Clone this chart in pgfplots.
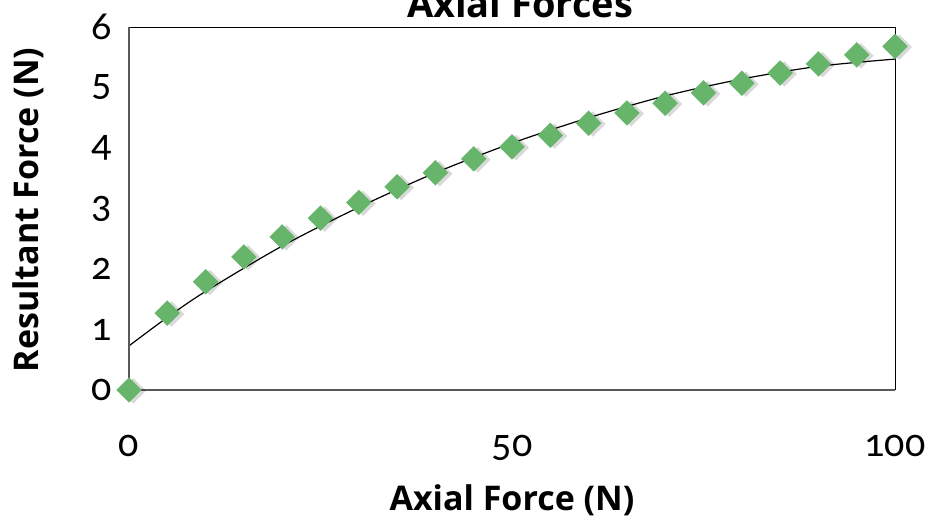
\documentclass[border=0pt]{standalone}
\usepackage{fontspec}
\usepackage{pgfplots}
\pgfplotsset{compat=1.18}
\setmainfont{Open Sans}
\newfontfamily\tickfont{Carlito}[Numbers=OldStyle]
\definecolor{mkgreen}{RGB}{103,180,107}
\definecolor{axgray}{RGB}{89,89,89}
\begin{document}
\begin{tikzpicture}
\begin{axis}[
  scale only axis,
  width=383pt, height=181.5pt,
  xmin=0, xmax=100, ymin=0, ymax=6,
  xtick={0,50,100}, ytick={0,1,2,3,4,5,6},
  major tick length=0pt,
  axis line style={black, line width=0.5pt},
  clip=false,
  /pgf/number format/assume math mode=true,
  tick label style={font=\tickfont\fontsize{20}{20}\selectfont, text=black},
  yticklabel style={xshift=-5pt},
  xticklabel style={yshift=-19pt},
  xlabel={Axial Force (N)},
  ylabel={Resultant Force (N)},
  xlabel style={at={(axis description cs:0.5,0)}, anchor=north, yshift=-44pt, font=\bfseries\fontsize{17}{17}\selectfont},
  ylabel style={at={(axis description cs:-0.132,0.496)}, anchor=center, rotate=0, font=\bfseries\fontsize{17}{17}\selectfont},
  title={Axial Forces},
  title style={at={(axis description cs:0.5,1)}, anchor=base, yshift=-1pt, xshift=4pt, font=\bfseries\fontsize{19}{19}\selectfont},
]
% marker shadow
\addplot[only marks, mark=square*, mark size=4.5pt,
  mark options={rotate=45, draw=none, draw opacity=0, fill=black, fill opacity=0.15},
  every mark/.append style={xshift=1.2pt, yshift=-1.8pt}]
  table {
x y
0 0
5 1.27
10 1.79
15 2.20
20 2.53
25 2.84
30 3.10
35 3.36
40 3.59
45 3.82
50 4.02
55 4.21
60 4.41
65 4.58
70 4.74
75 4.91
80 5.07
85 5.24
90 5.39
95 5.54
100 5.68
};
\addplot[only marks, mark=square*, mark size=4.5pt,
  mark options={rotate=45, draw=none, draw opacity=0, fill=mkgreen}]
  table {
x y
0 0
5 1.27
10 1.79
15 2.20
20 2.53
25 2.84
30 3.10
35 3.36
40 3.59
45 3.82
50 4.02
55 4.21
60 4.41
65 4.58
70 4.74
75 4.91
80 5.07
85 5.24
90 5.39
95 5.54
100 5.68
};
% trendline
\addplot[black, line width=0.6pt, smooth, no marks] table {
x y
0 0.73
5 1.20
10 1.63
20 2.38
30 3.02
40 3.59
50 4.08
60 4.50
70 4.86
80 5.14
90 5.35
100 5.47
};
\draw[axgray, line width=1pt] (rel axis cs:0,1) -- (rel axis cs:0,0) -- (rel axis cs:1,0);
\end{axis}
\pgfresetboundingbox
\useasboundingbox (-64.5pt,-70pt) rectangle (402pt,195pt);
\end{tikzpicture}
\end{document}
